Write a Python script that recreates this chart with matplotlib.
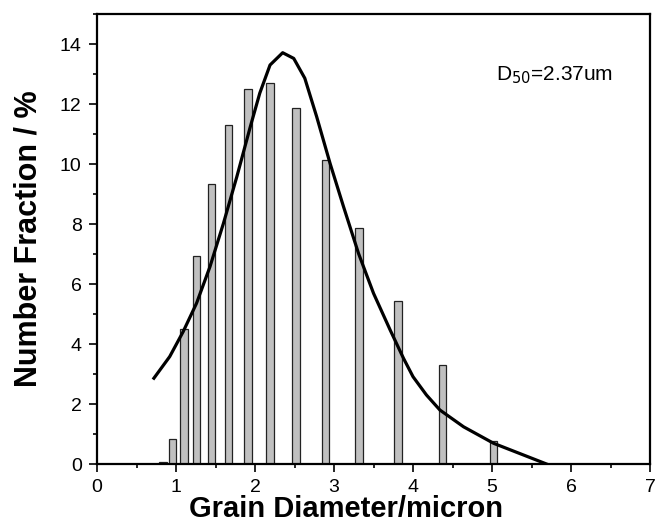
import matplotlib.pyplot as plt
from matplotlib.ticker import MultipleLocator

# grain size histogram (bin centre in micron, number fraction in %)
bin_centres = [0.835, 0.958, 1.101, 1.263, 1.447, 1.665, 1.911, 2.19,
               2.519, 2.89, 3.316, 3.808, 4.373, 5.021]
fractions = [0.06, 0.84, 4.49, 6.92, 9.33, 11.29, 12.5, 12.69,
             11.87, 10.14, 7.88, 5.43, 3.29, 0.77]

# fitted distribution curve
fit_x = [0.72, 0.92, 1.09, 1.26, 1.43, 1.6, 1.77, 1.94, 2.06, 2.19, 2.35,
         2.49, 2.63, 2.78, 2.95, 3.12, 3.31, 3.5, 3.71, 3.88, 4.0, 4.17,
         4.34, 4.64, 5.02, 5.69]
fit_y = [2.86, 3.58, 4.41, 5.36, 6.58, 8.02, 9.58, 11.24, 12.36, 13.3, 13.71,
         13.52, 12.86, 11.58, 10.02, 8.58, 7.02, 5.69, 4.47, 3.52, 2.91, 2.3,
         1.8, 1.24, 0.69, 0.0]

plt.rcParams['font.family'] = ['Liberation Sans', 'DejaVu Sans']

fig = plt.figure(figsize=(6.56, 5.23), dpi=100)
ax = fig.add_axes([0.1479, 0.1128, 0.843, 0.8604])

ax.bar(bin_centres, fractions, width=0.093, color='#c0c0c0',
       edgecolor='#222222', linewidth=0.9, zorder=2)
ax.plot(fit_x, fit_y, color='black', linewidth=2.3, zorder=3)

ax.set_xlim(0, 7)
ax.set_ylim(0, 15)
ax.xaxis.set_major_locator(MultipleLocator(1))
ax.xaxis.set_minor_locator(MultipleLocator(0.5))
ax.yaxis.set_major_locator(MultipleLocator(2))
ax.yaxis.set_minor_locator(MultipleLocator(1))
ax.tick_params(which='major', direction='out', length=6, width=1.2,
               labelsize=14, top=False, right=False, pad=5)
ax.tick_params(which='minor', direction='out', length=3, width=1.2,
               top=False, right=False)
for sp in ax.spines.values():
    sp.set_linewidth(1.6)

ax.set_xlabel('Grain Diameter/micron', fontsize=21, fontweight='bold')
ax.xaxis.set_label_coords(0.45, -0.118, transform=ax.transAxes)
ax.xaxis.label.set_va('baseline')
ax.set_ylabel('Number Fraction / %', fontsize=22, fontweight='bold',
              labelpad=12)

ax.text(0.722, 0.864, r'D$_{50}$=2.37um', transform=ax.transAxes,
        fontsize=15, ha='left', va='center')

fig.savefig('out.png', dpi=100)
